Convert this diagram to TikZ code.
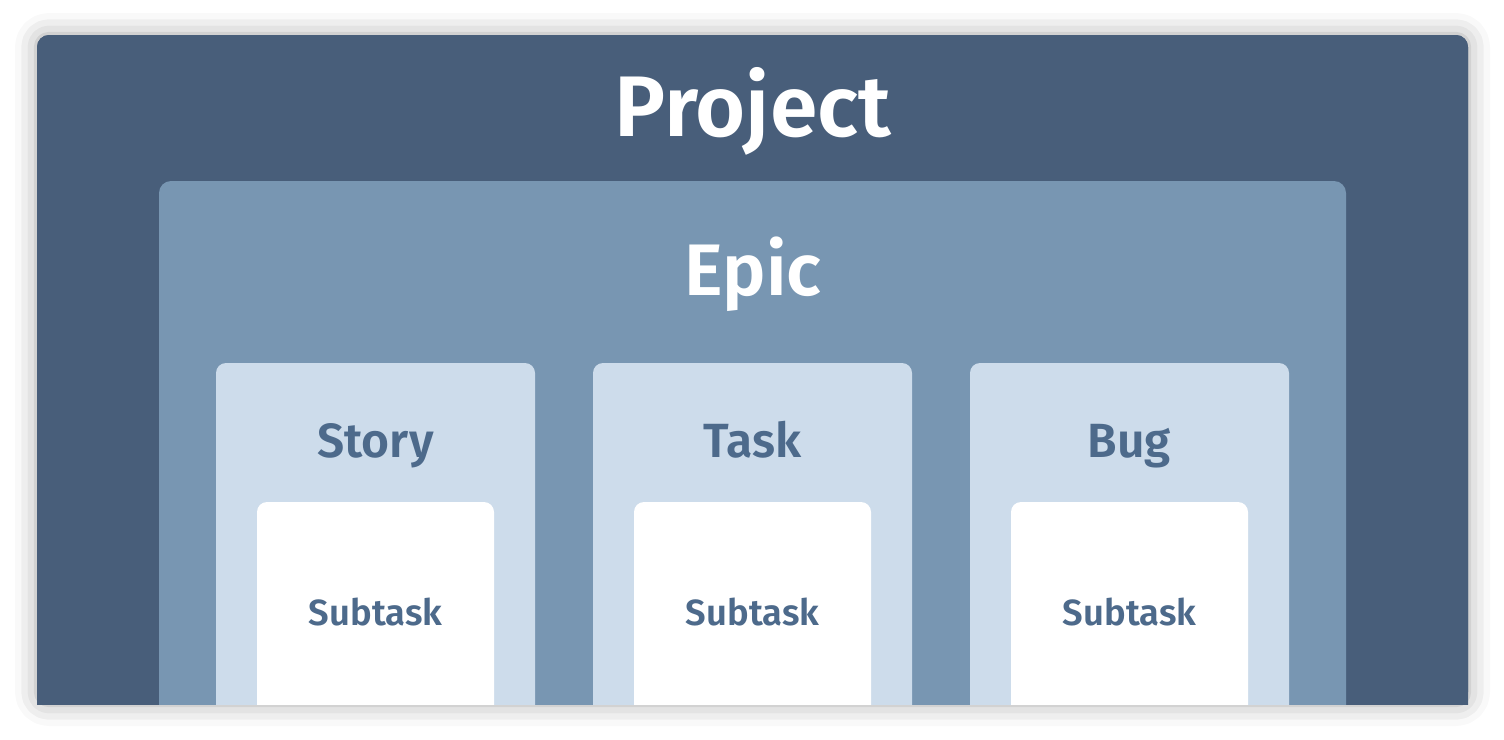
\documentclass[tikz,border=0pt]{standalone}
\usepackage{fontspec}
\setmainfont{Fira Sans}[BoldFont={Fira Sans SemiBold}]
\usepackage{tikz}
\usetikzlibrary{shadows.blur}

\definecolor{projcol}{HTML}{485E7A}
\definecolor{epiccol}{HTML}{7896B2}
\definecolor{itemcol}{HTML}{CDDCEB}
\definecolor{labelcol}{HTML}{4D6A8B}

\begin{document}
\begin{tikzpicture}[x=0.5pt,y=-0.5pt,
    bigtext/.style={text=white,anchor=base,font=\bfseries\fontsize{43}{43}\selectfont},
    epictext/.style={text=white,anchor=base,font=\bfseries\fontsize{36.5}{36.5}\selectfont},
    itemtext/.style={text=labelcol,anchor=base,font=\bfseries\fontsize{24}{24}\selectfont},
    subtext/.style={text=labelcol,anchor=base,font=\bfseries\fontsize{18.2}{18.2}\selectfont}]
    \useasboundingbox (0,0) rectangle (1504,739);
    % shadow round the project box
    \fill[projcol,rounded corners=6pt,blur shadow={shadow xshift=0pt,shadow yshift=0pt,shadow blur radius=11pt,shadow opacity=35}] (37,35) rectangle (1468,704);
    \begin{scope}
    \clip (0,0) rectangle (1504,704);
    \fill[projcol,rounded corners=6pt] (37,35) rectangle (1468,760);
    \fill[epiccol,rounded corners=6pt] (159,181) rectangle (1346,760);
    \node[bigtext] (project) at (753,136) {Project};
    \node[epictext] (epic) at (753,295) {Epic};
    \foreach \x/\name in {216/Story,593/Task,970/Bug}{
        \fill[itemcol,rounded corners=5pt] (\x,363) rectangle ++(319,420);
        \fill[white,rounded corners=5pt] (\x+41,502) rectangle ++(237,300);
        \node[itemtext] (\name) at (\x+159.5,457) {\name};
        \node[subtext] (sub\name) at (\x+159.5,625) {Subtask};
    }
    \end{scope}
\end{tikzpicture}
\end{document}
